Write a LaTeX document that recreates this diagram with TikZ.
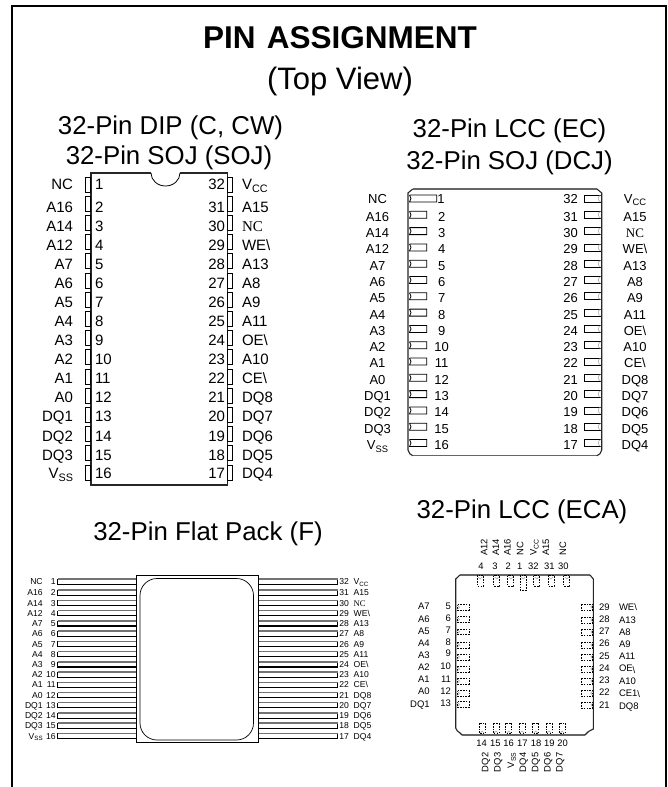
\documentclass[tikz,border=0pt]{standalone}
\usepackage{fontspec}
\usepackage{graphicx}
\setmainfont{Liberation Sans}
\newfontfamily\tmsfont{Liberation Serif}
\newcommand\bsl{\textbackslash}
\newcommand\Vsb[1]{V\raisebox{-0.2em}{\scalebox{0.72}{#1}}}
\newcommand\Vcc{\Vsb{CC}}
\newcommand\Vss{\Vsb{SS}}
\newcommand\tNC{{\tmsfont NC}}
\tikzset{
  fs/.style={font=\fontsize{#1}{#1}\selectfont,text height=#1*0.72pt,text depth=0pt,inner sep=0pt,outer sep=0pt},
  pinline/.style={draw=black,line width=0.9pt,fill=white},
  edgeblack/.style={draw=black!85,line width=1.1pt},
  edgegray/.style={draw=black!60,line width=1.5pt},
  leadbox/.style={draw=black,line width=1.1pt},
  leadtop/.style={draw=black!55,line width=1.5pt},
  dashpin/.style={draw=black,line width=0.6pt,dash pattern=on 1.6pt off 1.1pt},
  faint/.style={draw=black!35,line width=0.5pt},
  framel/.style={draw=black,line width=2.2pt}
}
\begin{document}
\begin{tikzpicture}[x=1pt,y=-1pt]
\useasboundingbox (0,0) rectangle (667,787);
\fill[white] (0,0) rectangle (667,787);
\draw[framel] (12,787) -- (12,6) -- (666,6) -- (666,787);

% titles
\node[fs=31.5,font=\fontsize{31.5}{31.5}\selectfont\bfseries] (title) at (340,37) {PIN\hspace{0.08em} ASSIGNMENT};
\node[fs=31] (view) at (340,78) {(Top View)};
\node[fs=25.8] (tdip) at (170.5,125) {32-Pin DIP (C, CW)};
\node[fs=25.8] (tsoj) at (169,155) {32-Pin SOJ (SOJ)};
\node[fs=25.8] (tlcc) at (509.5,128) {32-Pin LCC (EC)};
\node[fs=25.8] (tdcj) at (509.5,160) {32-Pin SOJ (DCJ)};
\node[fs=25.8] (tflat) at (208,531) {32-Pin Flat Pack (F)};
\node[fs=25.8] (teca) at (522,509) {32-Pin LCC (ECA)};

% ---------- DIP
\draw[edgeblack] (151,173) -- (91,173) -- (91,485) -- (227.7,485) -- (227.7,173) -- (180,173);
\draw[line width=0.8pt,black] (151,173) arc[start angle=180,end angle=0,x radius=14.5,y radius=13];
\foreach \lab [count=\i] in {NC,A16,A14,A12,A7,A6,A5,A4,A3,A2,A1,A0,DQ1,DQ2,DQ3,\Vss}{
  \pgfmathsetmacro\py{184.5+19.2*(\i-1)}
  \pgfmathsetmacro\ty{\i==1 ? 184.3 : (\i==16 ? 473.3 : 206.7+19.08*(\i-2))}
  \draw[pinline] (85.7,\py-7.5) rectangle (90.7,\py+7.5);
  \node[fs=15,anchor=east] (dl\i) at (73,\ty) {\lab};
  \node[fs=15,anchor=west] (dn\i) at (95,\ty) {\i};
}
\foreach \lab [count=\i] in {\Vcc,A15,\tNC,WE\bsl,A13,A8,A9,A11,OE\bsl,A10,CE\bsl,DQ8,DQ7,DQ6,DQ5,DQ4}{
  \pgfmathsetmacro\py{184.5+19.2*(\i-1)}
  \pgfmathsetmacro\ty{\i==1 ? 184.3 : (\i==16 ? 473.3 : 206.7+19.08*(\i-2))}
  \pgfmathtruncatemacro\pn{33-\i}
  \draw[pinline] (227.7,\py-7.5) rectangle (232.7,\py+7.5);
  \node[fs=15,anchor=west] (dr\i) at (242,\ty) {\lab};
  \node[fs=15,anchor=east] (dm\i) at (225,\ty) {\pn};
}

% ---------- LCC (EC)
\draw[edgegray] (412.7,189) -- (597,189);
\draw[edgegray] (412.7,455.7) -- (597,455.7);
\draw[edgeblack] (412.7,189) -- (408,193) -- (408,450) .. controls (409,453) and (410,455) .. (412.7,455.7);
\draw[edgeblack] (597,189) -- (601.7,193) -- (601.7,450) .. controls (600.7,453) and (599.7,455) .. (597,455.7);
\foreach \lab [count=\i] in {NC,A16,A14,A12,A7,A6,A5,A4,A3,A2,A1,A0,DQ1,DQ2,DQ3,\Vss}{
  \pgfmathsetmacro\py{198.5+16.3*(\i-1)}
  \pgfmathsetmacro\ty{\i==1 ? 198.5 : 200.3+16.3*(\i-1)}
  \pgfmathsetmacro\px{\i==1 ? 436.7 : 426.7}
  \pgfmathsetmacro\nx{\i==1 ? 441 : 441.7}
  \draw[line width=0.8pt,black] (409.5,\py-3.5) -- (\px,\py-3.5) -- (\px,\py+3.5) -- (409.5,\py+3.5) .. controls (411.5,\py+1.5) and (411.5,\py-1.5) .. (409.5,\py-3.5);
  \node[fs=13] (el\i) at (377.5,\ty) {\lab};
  \node[fs=13] (en\i) at (\nx,\ty) {\i};
}
\foreach \lab [count=\i] in {\Vcc,A15,\tNC,WE\bsl,A13,A8,A9,A11,OE\bsl,A10,CE\bsl,DQ8,DQ7,DQ6,DQ5,DQ4}{
  \pgfmathsetmacro\py{198.5+16.3*(\i-1)}
  \pgfmathsetmacro\ty{\i==1 ? 198.5 : 200.3+16.3*(\i-1)}
  \pgfmathtruncatemacro\pn{33-\i}
  \draw[line width=0.8pt,black] (600.5,\py-3.5) -- (584.5,\py-3.5) -- (584.5,\py+3.5) -- (600.5,\py+3.5);
  \draw[faint] (600.5,\py-3.5) .. controls (597.5,\py-1.5) and (597.5,\py+1.5) .. (600.5,\py+3.5);
  \node[fs=13] (er\i) at (635,\ty) {\lab};
  \node[fs=13] (em\i) at (570.5,\ty) {\pn};
}

% ---------- Flat pack
\foreach \lab [count=\i] in {NC,A16,A14,A12,A7,A6,A5,A4,A3,A2,A1,A0,DQ1,DQ2,DQ3,\Vss}{
  \pgfmathsetmacro\py{\i==1 ? 581.7 : 592.7+10.24*(\i-2)}
  \draw[leadbox] (136.7,\py+2.6) -- (57.5,\py+2.6) -- (57.5,\py-2.6);
  \draw[leadtop] (57.5,\py-2.6) -- (136.7,\py-2.6);
  \node[fs=8.6,anchor=east] (fl\i) at (42.7,\py) {\lab};
  \node[fs=8.6,anchor=east] (fn\i) at (55.7,\py) {\i};
}
\foreach \lab [count=\i] in {\Vcc,A15,\tNC,WE\bsl,A13,A8,A9,A11,OE\bsl,A10,CE\bsl,DQ8,DQ7,DQ6,DQ5,DQ4}{
  \pgfmathsetmacro\py{\i==1 ? 581.7 : 592.7+10.24*(\i-2)}
  \pgfmathtruncatemacro\pn{33-\i}
  \draw[leadbox] (258.3,\py+2.6) -- (337.5,\py+2.6) -- (337.5,\py-2.6);
  \draw[leadtop] (337.5,\py-2.6) -- (258.3,\py-2.6);
  \node[fs=8.6,anchor=west] (fr\i) at (353.7,\py) {\lab};
  \node[fs=8.6,anchor=west] (fm\i) at (339.3,\py) {\pn};
}
\draw[draw=black,line width=0.9pt,fill=white] (136.7,575.7) rectangle (258.3,742);
\draw[draw=black,line width=0.7pt,rounded corners=17pt] (140,578.5) rectangle (253.5,740);

% ---------- LCC (ECA)
\draw[edgegray] (460,575) -- (590,575);
\draw[edgegray] (462,735) -- (585,735);
\draw[edgeblack] (460,575) -- (455.7,579) -- (455.7,728) .. controls (456.2,730.5) and (458,731.5) .. (459.5,732.5) -- (462,735);
\draw[edgeblack] (590,575) -- (593.3,579) -- (593.3,729) -- (588.5,731.5) -- (585,735);

\foreach \px/\lab/\lx/\num/\nx [count=\i] in
 {480.3/A12/484/4/481, 496.7/A14/495.7/3/495, 510.7/A16/507.3/2/508.3, 523.3/NC/520/1/519.7,
  536.7/\Vcc/533.3/32/533.3, 551/A15/545.7/31/549.3, 566.7/NC/562.7/30/563.3}{
  \pgfmathsetmacro\pe{\i==4 ? 590 : 586}
  \draw[dashpin] (\px-3,575.7) rectangle (\px+3,\pe);
  \draw[faint] (\px-2,577) -- (\px,579) -- (\px+2,577);
  \node[fs=9.4,rotate=90,anchor=west] (tl\i) at (\lx,555.7) {\lab};
  \node[fs=9.4] (tn\i) at (\nx,565.7) {\num};
}
\foreach \px/\lab/\lx/\num/\nx [count=\i] in
 {482.3/DQ2/485/14/481.7, 496/DQ3/497.3/15/495.3, 508.7/\Vss/510.7/16/508.7, 522/DQ4/522.7/17/522.3,
  535.7/DQ5/535/18/536, 549/DQ6/547.3/19/549.3, 562.3/DQ7/559.3/20/562.7}{
  \draw[dashpin] (\px-3,723.3) rectangle (\px+3,733.3);
  \draw[faint] (\px-2,733) -- (\px,731) -- (\px+2,733);
  \node[fs=9.4,rotate=90,anchor=east] (bl\i) at (\lx,752.7) {\lab};
  \node[fs=9.4] (bn\i) at (\nx,743.3) {\num};
}
\foreach \py/\lab/\ly/\num/\ny [count=\i] in
 {607.3/A7/606/5/605.7, 619.5/A6/618.7/6/617.7, 631.7/A5/631/7/629.7, 645/A4/642.7/8/641.7,
  657/A3/655/9/653.3, 669/A2/666.7/10/666, 681/A1/678.7/11/678.7, 693.3/A0/691.3/12/690.7,
  704.5/DQ1/703.7/13/703.3}{
  \draw[dashpin] (457.5,\py-2.8) rectangle (469,\py+2.8);
  \draw[faint] (457.5,\py-2) -- (459.5,\py) -- (457.5,\py+2);
  \node[fs=9.5,anchor=east] (ll\i) at (429.7,\ly) {\lab};
  \node[fs=9.5,anchor=east] (ln\i) at (451,\ny) {\num};
}
\foreach \py/\lab/\ly/\num/\ny [count=\i] in
 {607/WE\bsl/607.3/29/606.7, 620/A13/620/28/618.7, 632/A8/632/27/630.7, 645/A9/644/26/643.3,
  657/A11/656/25/655.7, 669/OE\raisebox{-0.2em}{\bsl}/668.3/24/668, 681/A10/681/23/680, 693.3/CE1\raisebox{-0.1em}{\bsl}/693.3/22/691.7,
  705/DQ8/705.7/21/704.7}{
  \draw[dashpin] (581.3,\py-2.8) rectangle (592.7,\py+2.8);
  \draw[faint] (592.7,\py-2) -- (590.7,\py) -- (592.7,\py+2);
  \node[fs=9.5,anchor=west] (rl\i) at (619,\ly) {\lab};
  \node[fs=9.5,anchor=west] (rn\i) at (599,\ny) {\num};
}
\end{tikzpicture}
\end{document}
